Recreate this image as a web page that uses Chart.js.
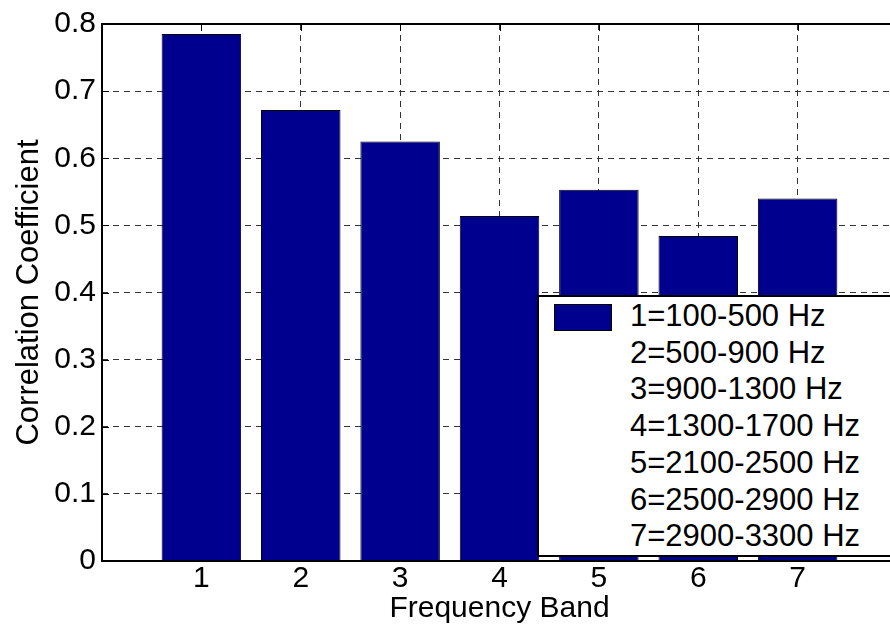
<!DOCTYPE html>
<html>
<head>
<meta charset="utf-8">
<script src="https://cdn.jsdelivr.net/npm/chart.js@4/dist/chart.umd.min.js"></script>
<style>
  html, body { margin: 0; padding: 0; background: #fff; overflow: hidden; }
  #wrap { position: relative; width: 890px; height: 639px; overflow: hidden; }
  #legend {
    position: absolute; left: 537px; top: 295px; width: 380px; height: 262px;
    background: #fff; border: 2px solid #000; box-sizing: border-box;
    font-family: Arial, "Liberation Sans", sans-serif; font-size: 31px; color: #000;
  }
  #legend .swatch {
    position: absolute; left: 15px; top: 7px; width: 58px; height: 27px;
    background: #00008f; border: 1px solid #000; box-sizing: border-box;
  }
  #legend .lines { position: absolute; left: 91px; top: 1px; line-height: 36.7px; white-space: nowrap; }
</style>
</head>
<body>
<div id="wrap">
  <canvas id="chart" width="900" height="639"></canvas>
  <div id="legend"><div class="swatch"></div><div class="lines" id="legendLines"></div></div>
</div>
<script>
// 주파수 대역 번호와 상관계수
const bands = [1, 2, 3, 4, 5, 6, 7];
const correlation = [0.785, 0.672, 0.625, 0.514, 0.553, 0.484, 0.540];
const bandNames = [
    "1=100-500 Hz",
    "2=500-900 Hz",
    "3=900-1300 Hz",
    "4=1300-1700 Hz",
    "5=2100-2500 Hz",
    "6=2500-2900 Hz",
    "7=2900-3300 Hz"
];
const yTicks = [0, 0.1, 0.2, 0.3, 0.4, 0.5, 0.6, 0.7, 0.8];

const FONT = 'Arial, "Liberation Sans", sans-serif';

// 범례 텍스트
document.getElementById("legendLines").innerHTML = bandNames.map(s => "<div>" + s + "</div>").join("");

// 축 박스 + 안쪽 눈금 (MATLAB 스타일)
const boxPlugin = {
    id: "box",
    beforeDatasetsDraw(chart) {
        const { ctx, chartArea: a, scales } = chart;
        ctx.save();
        ctx.strokeStyle = "#000";
        ctx.lineWidth = 1;
        ctx.beginPath();
        bands.forEach(b => {
            const x = Math.round(scales.x.getPixelForValue(b)) + 0.5;
            ctx.moveTo(x, a.top); ctx.lineTo(x, a.top + 7);
            ctx.moveTo(x, a.bottom); ctx.lineTo(x, a.bottom - 7);
        });
        yTicks.forEach(v => {
            const y = Math.round(scales.y.getPixelForValue(v)) + 0.5;
            ctx.moveTo(a.left, y); ctx.lineTo(a.left + 7, y);
            ctx.moveTo(a.right, y); ctx.lineTo(a.right - 7, y);
        });
        ctx.stroke();
        ctx.restore();
    },
    afterDatasetsDraw(chart) {
        const { ctx, chartArea: a } = chart;
        ctx.save();
        ctx.strokeStyle = "#000";
        ctx.lineWidth = 2;
        ctx.strokeRect(Math.round(a.left), Math.round(a.top), Math.round(a.right - a.left), Math.round(a.bottom - a.top));
        ctx.restore();
    }
};

new Chart(document.getElementById("chart"), {
    type: "bar",
    data: {
        datasets: [{
            data: bands.map((b, i) => ({ x: b, y: correlation[i] })),
            backgroundColor: "#00008f",
            borderColor: "#000",
            borderWidth: 1,
            categoryPercentage: 1,
            barPercentage: 0.8
        }]
    },
    options: {
        responsive: false,
        animation: false,
        layout: { padding: { left: 0, top: 22, right: 3, bottom: 0 } },
        plugins: { legend: { display: false }, tooltip: { enabled: false } },
        scales: {
            x: {
                type: "linear",
                min: 0,
                max: 8,
                offset: false,
                afterFit(scale) { scale.height = 78; },
                ticks: {
                    stepSize: 1,
                    padding: 0,
                    color: "#000",
                    font: { family: FONT, size: 30 },
                    callback: v => (v >= 1 && v <= 7 ? String(v) : "")
                },
                grid: {
                    offset: false,
                    drawTicks: false,
                    color: c => (c.tick && (c.tick.value === 0 || c.tick.value === 8) ? "rgba(0,0,0,0)" : "#333")
                },
                border: { display: false, dash: [6, 5] },
                title: {
                    display: true,
                    text: "Frequency Band",
                    color: "#000",
                    font: { family: FONT, size: 30 },
                    padding: { top: 0, bottom: 12 }
                }
            },
            y: {
                min: 0,
                max: 0.8,
                afterFit(scale) { scale.width = 102; },
                ticks: {
                    stepSize: 0.1,
                    padding: 6,
                    color: "#000",
                    font: { family: FONT, size: 30 },
                    callback: v => (Math.round(v * 10) / 10).toString()
                },
                grid: {
                    drawTicks: false,
                    color: c => (c.tick && (c.tick.value <= 0.0001 || c.tick.value >= 0.7999) ? "rgba(0,0,0,0)" : "#333")
                },
                border: { display: false, dash: [6, 5] },
                title: {
                    display: true,
                    text: "Correlation Coefficient",
                    color: "#000",
                    font: { family: FONT, size: 31 },
                    padding: { top: 11, bottom: 0 }
                }
            }
        }
    },
    plugins: [boxPlugin]
});
</script>
</body>
</html>
